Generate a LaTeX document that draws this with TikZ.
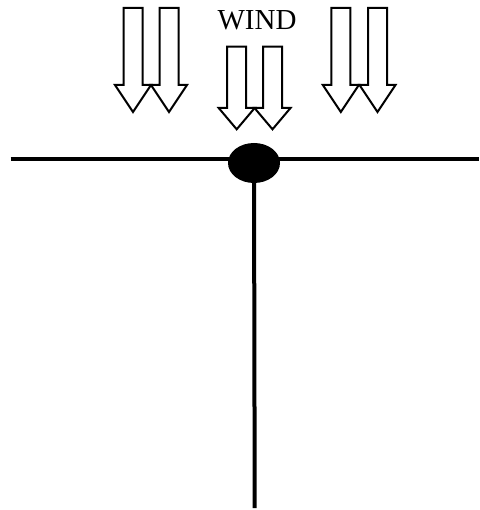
\documentclass[tikz,border=0pt]{standalone}
\usepackage{fontspec}
\setmainfont{Liberation Serif}
\usetikzlibrary{shapes.geometric}
\tikzset{
  windarrow/.style={draw=black,line width=2pt,fill=white,line join=miter},
  post/.style={line width=4pt},
}
% one hollow arrow: centre x, top y, head base y, tip y
\newcommand{\windarrow}[4]{%
  \draw[windarrow] (#1-9.5,#2) -- (#1+9.5,#2) -- (#1+9.5,#3) -- (#1+18,#3)
    -- (#1,#4) -- (#1-18,#3) -- (#1-9.5,#3) -- cycle;}

\begin{document}
\begin{tikzpicture}[x=1pt,y=-1pt]
\useasboundingbox (0,0) rectangle (479,510);
% the mast
\coordinate (left) at (10.5,159);
\coordinate (right) at (479,159);
\coordinate (foot) at (254.7,508);
\node[ellipse,fill=black,inner sep=0pt,minimum width=52pt,minimum height=40pt] (joint) at (254,163) {};
\draw[post] (left) -- (right);
\draw[post] (joint.center) -- (foot);
% wind
\node[font=\fontsize{29}{29}\selectfont,anchor=base,inner sep=0pt] (wind) at (257,30) {WIND};
\windarrow{133}{8}{85}{112}
\windarrow{169}{8}{85}{112}
\windarrow{236.7}{46.7}{108}{129.3}
\windarrow{272.5}{46.7}{108}{129.3}
\windarrow{340.8}{8}{85}{112}
\windarrow{377.5}{8}{85}{112}
\end{tikzpicture}
\end{document}
